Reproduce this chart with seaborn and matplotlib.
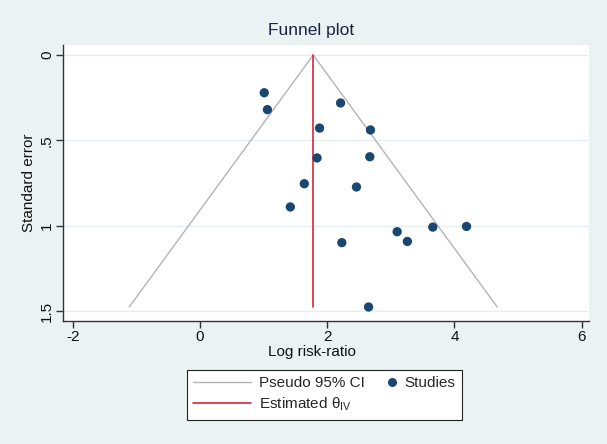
import numpy as np
import pandas as pd
import matplotlib
matplotlib.use("Agg")
import matplotlib.pyplot as plt
import seaborn as sns
from matplotlib.lines import Line2D
from matplotlib.legend_handler import HandlerBase

# Study estimates (log risk-ratio) and their standard errors
log_rr = [1.01, 1.06, 2.21, 1.88, 2.68, 1.84, 2.67, 1.64, 2.46, 1.42,
          3.66, 4.19, 3.10, 3.26, 2.23, 2.65]
std_err = [0.221, 0.320, 0.281, 0.428, 0.439, 0.603, 0.596, 0.754, 0.773, 0.890,
           1.008, 1.004, 1.035, 1.092, 1.099, 1.476]
theta_iv = 1.78
x_ticks = [-2, 0, 2, 4, 6]
y_ticks = [0, 0.5, 1, 1.5]
y_tick_labels = ["0", ".5", "1", "1.5"]

bg = "#eaf2f3"
navy = "#1a476f"
red = "#d2283c"
gray = "#b4b4b4"
ink = "#111111"

sns.set_theme(style="white")
plt.rcParams["font.family"] = ["Liberation Sans", "DejaVu Sans"]
plt.rcParams["mathtext.fontset"] = "custom"
plt.rcParams["mathtext.rm"] = "Liberation Sans"
plt.rcParams["mathtext.it"] = "Liberation Sans"

df = pd.DataFrame({"logrr": log_rr, "se": std_err})
se_max = df["se"].max()

fig = plt.figure(figsize=(6.07, 4.44), dpi=100, facecolor=bg)
ax = fig.add_axes([63 / 607, 1 - 321 / 444, 526 / 607, 276 / 444])
ax.set_facecolor("white")
ax.patch.set_edgecolor("none")

# horizontal grid
for yt in y_ticks:
    ax.axhline(yt, color="#e4eef1", lw=1.0, zorder=0)

# pseudo 95% CI funnel
ax.plot([theta_iv - 1.96 * se_max, theta_iv, theta_iv + 1.96 * se_max],
        [se_max, 0, se_max], color=gray, lw=1.0, zorder=1)
# estimated effect
ax.plot([theta_iv, theta_iv], [0, se_max], color=red, lw=1.2, zorder=2)

sns.scatterplot(data=df, x="logrr", y="se", ax=ax, color=navy, s=45,
                edgecolor="none", zorder=3, legend=False)

ax.set_xlim(-2.154, 6.116)
ax.set_ylim(1.558, -0.0586)
ax.set_xticks(x_ticks)
ax.set_xticklabels([str(t) for t in x_ticks])
ax.set_yticks(y_ticks)
ax.set_yticklabels(y_tick_labels, rotation=90, va="center")
ax.tick_params(axis="both", which="both", direction="out", length=5, width=1,
               color="#333333", labelsize=11, labelcolor=ink, pad=1.5,
               bottom=True, left=True, top=False, right=False)
ax.spines["top"].set_visible(False)
ax.spines["right"].set_visible(False)
for side in ["left", "bottom"]:
    ax.spines[side].set_color("#333333")
    ax.spines[side].set_linewidth(1.0)

ax.set_xlabel("Log risk-ratio", fontsize=11, color=ink)
ax.set_ylabel("Standard error", fontsize=11, color=ink)
ax.xaxis.set_label_coords((312 - 63) / 526, -(352 - 321) / 276)
ax.yaxis.set_label_coords(-(63 - 29) / 526, (321 - 183) / 276)
ax.xaxis.label.set_va("center")
ax.yaxis.label.set_va("center")

fig.text(311 / 607, 1 - 31 / 444, "Funnel plot", ha="center", va="center",
         fontsize=12.5, color="#1c2340")


class RightMarker(HandlerBase):
    # marker sits at the right end of the handle box, close to its label
    def create_artists(self, legend, orig_handle, xdescent, ydescent,
                       width, height, fontsize, trans):
        m = Line2D([width - xdescent - 4], [height / 2 - ydescent],
                   marker="o", ls="none", color=navy, markersize=6.5,
                   markeredgecolor="none", transform=trans)
        return [m]


ci_h = Line2D([], [], color=gray, lw=1.0)
est_h = Line2D([], [], color=red, lw=1.2)
stud_h = Line2D([], [], color=navy, marker="o", ls="none")
handles = [ci_h, est_h, stud_h]
labels = ["Pseudo 95% CI", r"Estimated $\theta_{\mathrm{IV}}$", "Studies"]
leg = fig.legend(handles, labels, ncol=2, loc="upper left",
                 bbox_to_anchor=(187 / 607, 1 - 370 / 444),
                 frameon=True, fancybox=False, framealpha=1,
                 edgecolor="#222222", facecolor="white", fontsize=11,
                 handlelength=3.8, columnspacing=-1.7, handletextpad=0.5,
                 labelspacing=0.35, borderpad=0.42, borderaxespad=0,
                 handler_map={stud_h: RightMarker()})
leg.get_frame().set_linewidth(0.8)

fig.savefig("out.png", dpi=100, facecolor=bg)
